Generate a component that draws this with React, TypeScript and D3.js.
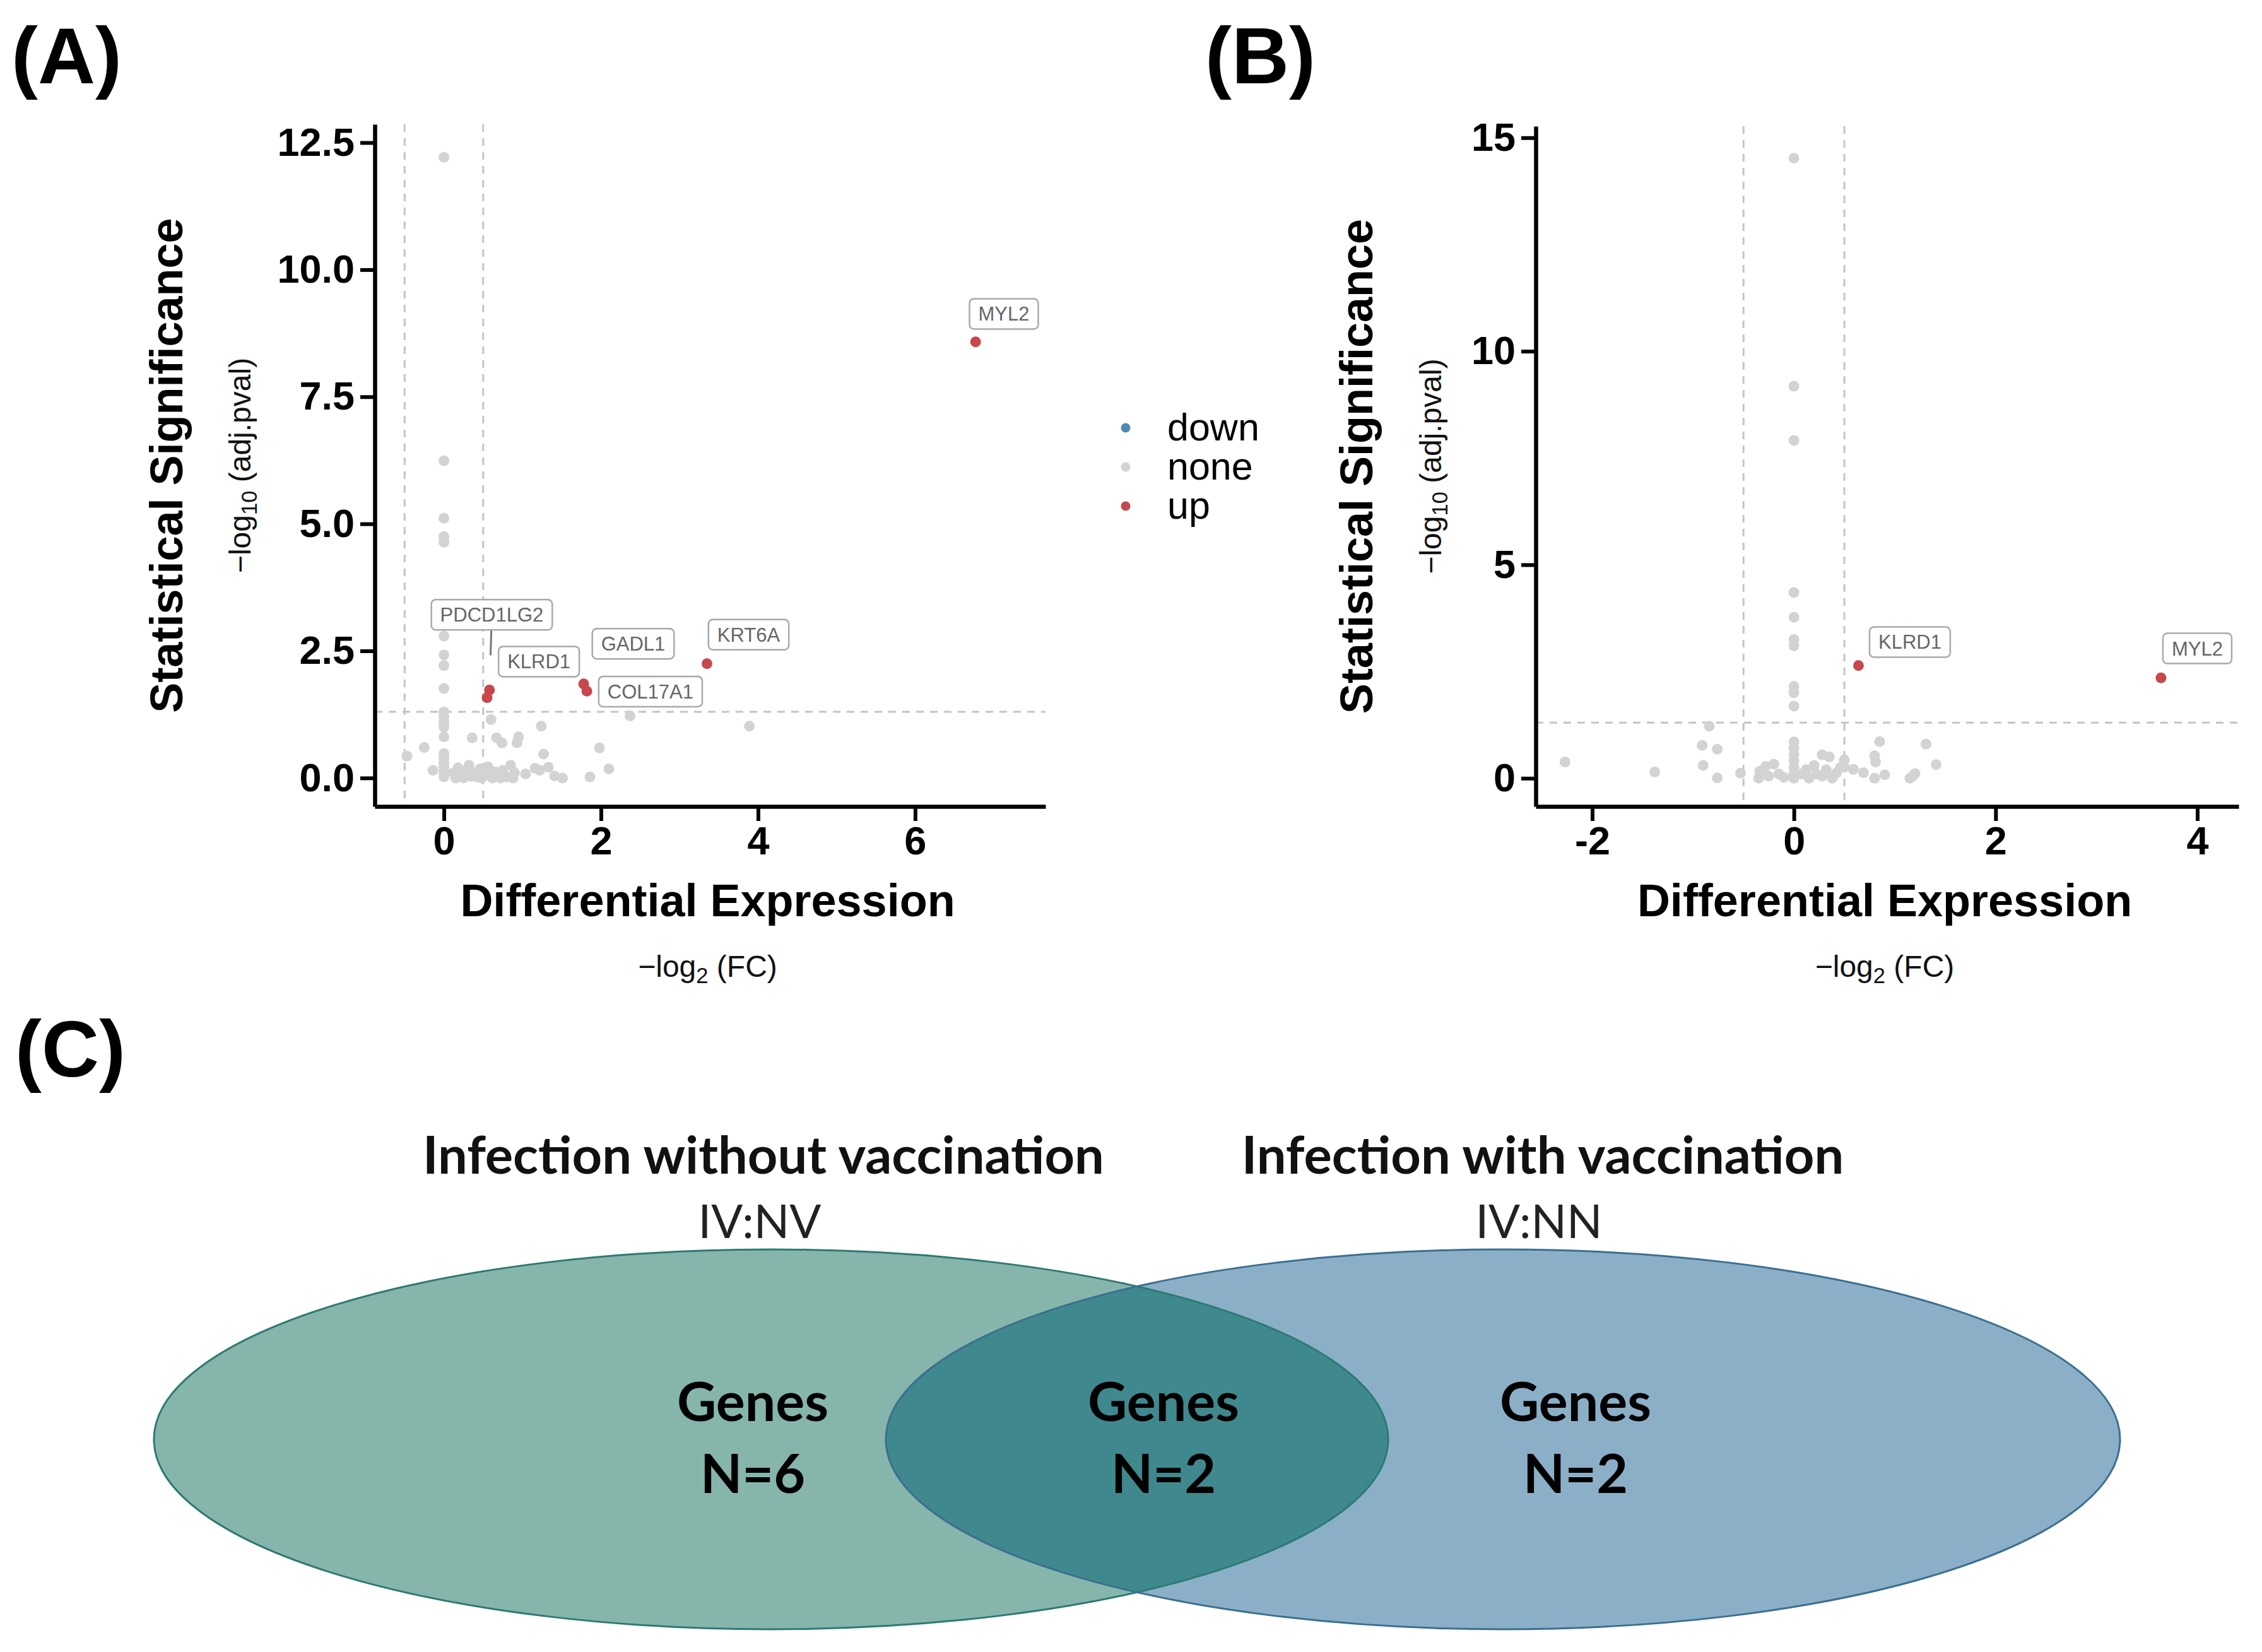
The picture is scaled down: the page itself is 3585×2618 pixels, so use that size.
import React, { useEffect, useRef } from "react";
import * as d3 from "d3";

const W = 3585;
const H = 2618;

// ---- data ----
// panel A (IV:NV) – non significant genes [log2FC, -log10 adj.p]
const noneA: [number, number][] = [
  [0, 12.21], [0, 6.24], [0, 5.11], [0, 4.75], [0, 4.64], [0, 3.22], [0, 2.79],
  [0, 2.42], [0, 2.21], [0, 1.76], [0, 1.3], [0, 1.2], [0, 1.1], [0, 1.0],
  [0, 0.81], [0, 0.48], [0, 0.4], [0, 0.3], [0, 0.22], [0, 0.15], [0, 0.08], [0, 0.02],
  [-0.47, 0.43], [-0.25, 0.6], [-0.14, 0.15], [0.36, 0.79], [0.6, 1.15], [0.67, 0.79],
  [0.74, 0.69], [0.95, 0.81], [0.93, 0.69], [1.24, 1.02], [1.27, 0.47], [1.98, 0.59],
  [2.37, 1.22], [3.89, 1.02], [2.1, 0.18], [1.86, 0.02], [1.04, 0.08], [1.16, 0.19],
  [1.33, 0.21], [1.22, 0.15], [1.41, 0.04], [1.51, 0.0],
  [0.12, 0.1], [0.18, 0.2], [0.22, 0.05], [0.28, 0.15], [0.32, 0.25], [0.38, 0.1],
  [0.42, 0.02], [0.46, 0.18], [0.52, 0.08], [0.56, 0.22], [0.6, 0.03], [0.65, 0.12],
  [0.7, 0.05], [0.75, 0.15], [0.8, 0.02], [0.85, 0.25], [0.9, 0.1], [0.15, 0.0],
  [0.25, 0.0], [0.35, 0.03], [0.48, 0.0], [0.62, 0.0], [0.72, 0.0], [0.88, 0.0],
];
const upA = [
  { gene: "PDCD1LG2", x: 0.58, y: 1.73 },
  { gene: "KLRD1", x: 0.55, y: 1.58 },
  { gene: "GADL1", x: 1.78, y: 1.85 },
  { gene: "COL17A1", x: 1.82, y: 1.71 },
  { gene: "KRT6A", x: 3.35, y: 2.25 },
  { gene: "MYL2", x: 6.77, y: 8.58 },
];

// panel B (IV:NN)
const noneB: [number, number][] = [
  [0, 14.52], [0, 9.18], [0, 7.91], [0, 4.35], [0, 3.77], [0, 3.25], [0, 3.1],
  [0, 2.15], [0, 2.0], [0, 1.69], [0, 0.85], [0, 0.7], [0, 0.55], [0, 0.4],
  [0, 0.25], [0, 0.1], [0, 0.0],
  [-2.27, 0.38], [-1.38, 0.15], [-0.84, 1.22], [-0.91, 0.77], [-0.76, 0.68],
  [-0.9, 0.3], [-0.76, 0.01], [-0.53, 0.12], [-0.34, 0.16], [-0.28, 0.28],
  [-0.2, 0.33], [-0.35, 0.0], [-0.25, 0.05], [-0.15, 0.1], [-0.1, 0.02],
  [0.28, 0.55], [0.35, 0.5], [0.08, 0.1], [0.12, 0.2], [0.15, 0.0], [0.2, 0.3],
  [0.22, 0.1], [0.28, 0.05], [0.32, 0.2], [0.38, 0.0], [0.42, 0.12], [0.46, 0.25],
  [0.5, 0.43], [0.5, 0.26], [0.59, 0.21], [0.69, 0.13], [0.85, 0.86], [0.8, 0.53],
  [0.81, 0.38], [0.8, 0.0], [0.9, 0.08], [1.15, 0.0], [1.2, 0.11], [1.31, 0.8],
  [1.41, 0.32], [1.18, 0.05],
];
const upB = [
  { gene: "KLRD1", x: 0.64, y: 2.64 },
  { gene: "MYL2", x: 3.64, y: 2.35 },
];

const legendKeys = ["down", "none", "up"];
const yTicksA = [0, 2.5, 5, 7.5, 10, 12.5];
const xTicksA = [0, 2, 4, 6];
const yTicksB = [0, 5, 10, 15];
const xTicksB = [-2, 0, 2, 4];

// where ggrepel put the label boxes (data units)
const labelSpotsA: Record<string, [number, number]> = {
  MYL2: [7.13, 9.13],
  PDCD1LG2: [0.61, 3.21],
  KLRD1: [1.21, 2.29],
  GADL1: [2.41, 2.64],
  COL17A1: [2.63, 1.7],
  KRT6A: [3.88, 2.82],
};
const labelSpotsB: Record<string, [number, number]> = {
  KLRD1: [1.15, 3.19],
  MYL2: [4.0, 3.04],
};

// venn
const vennSets = [
  { title: "Infection without vaccination", code: "IV:NV", only: 6 },
  { title: "Infection with vaccination", code: "IV:NN", only: 2 },
];
const vennShared = 2;

const colors: Record<string, string> = {
  down: "#4d8ab5",
  none: "#d3d3d3",
  up: "#c6474c",
};

const SANS = "'Liberation Sans', Arial, sans-serif";
const VENN_FONT = "Lato, 'Open Sans', sans-serif";

type Panel = {
  tag: string;
  tagX: number;
  left: number;
  right: number;
  top: number;
  bottom: number;
  xDomain: [number, number];
  yDomain: [number, number];
  xTicks: number[];
  yTicks: number[];
  yFmt: (v: number) => string;
  titleGap: number;
  subGap: number;
  none: [number, number][];
  up: { gene: string; x: number; y: number }[];
  labels: Record<string, [number, number]>;
  legend: boolean;
};

const panels: Panel[] = [
  {
    tag: "(A)", tagX: 18,
    left: 594, right: 1657, top: 197, bottom: 1278,
    xDomain: [-0.88, 7.66], yDomain: [-0.56, 12.86],
    xTicks: xTicksA, yTicks: yTicksA, yFmt: d3.format(".1f"),
    titleGap: 305, subGap: 197,
    none: noneA, up: upA, labels: labelSpotsA, legend: true,
  },
  {
    tag: "(B)", tagX: 1910,
    left: 2434, right: 3548, top: 200, bottom: 1278,
    xDomain: [-2.56, 4.41], yDomain: [-0.66, 15.27],
    xTicks: xTicksB, yTicks: yTicksB, yFmt: d3.format("d"),
    titleGap: 259, subGap: 150,
    none: noneB, up: upB, labels: labelSpotsB, legend: false,
  },
];

function logLabel(sel: any, base: string, sub: string, rest: string) {
  sel.append("tspan").text(base);
  sel.append("tspan").attr("font-size", "0.72em").attr("dy", "0.3em").text(sub);
  sel.append("tspan").attr("dy", "-0.22em").text(rest);
}

export default function App() {
  const svgRef = useRef<SVGSVGElement>(null);

  useEffect(() => {
    if (!svgRef.current) return;
    const svg = d3.select(svgRef.current);
    svg.selectAll("*").remove();

    svg.append("rect").attr("width", W).attr("height", H).attr("fill", "#fff");

    panels.forEach((p) => {
      const x = d3.scaleLinear().domain(p.xDomain).range([p.left, p.right]);
      const y = d3.scaleLinear().domain(p.yDomain).range([p.bottom, p.top]);
      const g = svg.append("g");

      // panel tag
      svg.append("text")
        .attr("x", p.tagX).attr("y", 132)
        .attr("font-family", SANS).attr("font-weight", "bold")
        .attr("font-size", 126).text(p.tag);

      // threshold lines
      const dash = g.append("g")
        .attr("stroke", "#c4c4c4").attr("stroke-width", 3)
        .attr("stroke-dasharray", "12 10").attr("fill", "none");
      [-0.5, 0.5].forEach((v) => {
        dash.append("line")
          .attr("x1", x(v)).attr("x2", x(v))
          .attr("y1", p.top).attr("y2", p.bottom);
      });
      dash.append("line")
        .attr("x1", p.left).attr("x2", p.right)
        .attr("y1", y(-Math.log10(0.05))).attr("y2", y(-Math.log10(0.05)));

      // points
      g.append("g").selectAll("circle")
        .data(p.none).join("circle")
        .attr("cx", (d) => x(d[0])).attr("cy", (d) => y(d[1]))
        .attr("r", 8.5).attr("fill", colors.none);
      g.append("g").selectAll("circle")
        .data(p.up).join("circle")
        .attr("cx", (d) => x(d.x)).attr("cy", (d) => y(d.y))
        .attr("r", 8.5).attr("fill", colors.up);

      // repel labels
      p.up.forEach((d) => {
        const spot = p.labels[d.gene];
        if (!spot) return;
        const cx = x(spot[0]);
        const cy = y(spot[1]);
        const lg = g.append("g");
        const rect = lg.append("rect");
        const txt = lg.append("text")
          .attr("x", cx).attr("y", cy + 11)
          .attr("text-anchor", "middle")
          .attr("font-family", SANS).attr("font-size", 31)
          .attr("fill", "#666").text(d.gene);
        const tw = (txt.node() as SVGTextElement).getComputedTextLength();
        const hw = tw / 2 + 14;
        const hh = 24;
        rect.attr("x", cx - hw).attr("y", cy - hh)
          .attr("width", hw * 2).attr("height", hh * 2)
          .attr("rx", 7).attr("fill", "#fff")
          .attr("stroke", "#a9a9a9").attr("stroke-width", 2.5);

        // segment from box edge toward the point
        const px = x(d.x), py = y(d.y);
        const dx = px - cx, dy = py - cy;
        const len = Math.hypot(dx, dy);
        const t = Math.min(Math.abs(dx) > 0 ? hw / Math.abs(dx) : 1e9, Math.abs(dy) > 0 ? hh / Math.abs(dy) : 1e9);
        const remain = (1 - t) * len - 55;
        if (t < 1 && remain > 15) {
          const sx = cx + dx * t, sy = cy + dy * t;
          const ux = dx / len, uy = dy / len;
          g.insert("line", ":first-child")
            .attr("x1", sx).attr("y1", sy)
            .attr("x2", sx + ux * remain).attr("y2", sy + uy * remain)
            .attr("stroke", "#777").attr("stroke-width", 3);
        }
      });

      // axes
      const yAxis = g.append("g")
        .attr("transform", `translate(${p.left},0)`)
        .call(d3.axisLeft(y).tickValues(p.yTicks).tickFormat(p.yFmt as any).tickSize(23).tickSizeOuter(0).tickPadding(9));
      const xAxis = g.append("g")
        .attr("transform", `translate(0,${p.bottom})`)
        .call(d3.axisBottom(x).tickValues(p.xTicks).tickFormat(d3.format("d") as any).tickSize(23).tickSizeOuter(0).tickPadding(8));
      [yAxis, xAxis].forEach((a) => {
        a.attr("font-family", SANS).attr("font-size", 63).attr("font-weight", "bold");
        a.select(".domain").attr("stroke", "#000").attr("stroke-width", 6.5);
        a.selectAll(".tick line").attr("stroke", "#000").attr("stroke-width", 6);
        a.selectAll(".tick text").attr("fill", "#000");
      });
      xAxis.selectAll(".tick text").text((d: any) => (d < 0 ? `-${Math.abs(d)}` : `${d}`));

      // axis titles
      const midY = (p.top + p.bottom) / 2;
      const midX = (p.left + p.right) / 2;
      svg.append("text")
        .attr("transform", `translate(${p.left - p.titleGap},${midY}) rotate(-90)`)
        .attr("text-anchor", "middle")
        .attr("font-family", SANS).attr("font-weight", "bold").attr("font-size", 72)
        .text("Statistical Significance");
      const ys = svg.append("text")
        .attr("transform", `translate(${p.left - p.subGap},${midY}) rotate(-90)`)
        .attr("text-anchor", "middle")
        .attr("font-family", SANS).attr("font-size", 48).attr("fill", "#111");
      logLabel(ys, "\u2212log", "10", " (adj.pval)");

      svg.append("text")
        .attr("x", midX - 4).attr("y", 1452)
        .attr("text-anchor", "middle")
        .attr("font-family", SANS).attr("font-weight", "bold").attr("font-size", 72)
        .text("Differential Expression");
      const xs = svg.append("text")
        .attr("x", midX - 4).attr("y", 1548)
        .attr("text-anchor", "middle")
        .attr("font-family", SANS).attr("font-size", 48).attr("fill", "#111");
      logLabel(xs, "\u2212log", "2", " (FC)");

      // legend
      if (p.legend) {
        const lg = svg.append("g").attr("transform", "translate(1784,678)");
        const row = lg.selectAll("g").data(legendKeys).join("g")
          .attr("transform", (_, i) => `translate(0,${i * 62})`);
        row.append("circle").attr("r", 7.5).attr("fill", (d) => colors[d]);
        row.append("text")
          .attr("x", 66).attr("y", 20)
          .attr("font-family", SANS).attr("font-size", 61)
          .text((d) => d);
      }
    });

    // ---- panel C: venn ----
    svg.append("text")
      .attr("x", 24).attr("y", 1706)
      .attr("font-family", SANS).attr("font-weight", "bold")
      .attr("font-size", 126).text("(C)");

    const vx = d3.scaleLinear().domain([0, 1]).range([1222, 2382]);
    const cy = 2281, rx = 978, ry = 301;
    const fills = ["#86b5ac", "#8cafc8"];
    const strokes = ["#2d7a72", "#3b6f90"];

    const defs = svg.append("defs");
    defs.append("clipPath").attr("id", "clipRight")
      .append("ellipse").attr("cx", vx(1)).attr("cy", cy).attr("rx", rx).attr("ry", ry);

    const vg = svg.append("g");
    vennSets.forEach((_, i) => {
      vg.append("ellipse")
        .attr("cx", vx(i)).attr("cy", cy).attr("rx", rx).attr("ry", ry)
        .attr("fill", fills[i]);
    });
    vg.append("ellipse")
      .attr("cx", vx(0)).attr("cy", cy).attr("rx", rx).attr("ry", ry)
      .attr("clip-path", "url(#clipRight)")
      .attr("fill", "#3f898e");
    vennSets.forEach((_, i) => {
      vg.append("ellipse")
        .attr("cx", vx(i)).attr("cy", cy).attr("rx", rx).attr("ry", ry)
        .attr("fill", "none").attr("stroke", strokes[i]).attr("stroke-width", 3);
    });

    const titleX = [1210, 2445];
    const countX = [1193, 1844, 2497];
    vennSets.forEach((s, i) => {
      svg.append("text")
        .attr("x", titleX[i]).attr("y", 1860)
        .attr("text-anchor", "middle")
        .attr("font-family", VENN_FONT).attr("font-weight", "bold").attr("font-size", 83)
        .attr("fill", "#111").text(s.title);
      svg.append("text")
        .attr("x", titleX[i] - 6).attr("y", 1962)
        .attr("text-anchor", "middle")
        .attr("font-family", VENN_FONT).attr("font-size", 74)
        .attr("fill", "#222").text(s.code);
    });
    const counts = [vennSets[0].only, vennShared, vennSets[1].only];
    counts.forEach((n, i) => {
      const t = svg.append("text")
        .attr("text-anchor", "middle")
        .attr("font-family", VENN_FONT).attr("font-weight", "bold").attr("font-size", 86)
        .attr("fill", "#000");
      t.append("tspan").attr("x", countX[i]).attr("y", 2252).text("Genes");
      t.append("tspan").attr("x", countX[i]).attr("y", 2366).text(`N=${n}`);
    });
  }, []);

  return (
    <div style={{ position: "absolute", left: 0, top: 0 }}>
      <svg ref={svgRef} width={W} height={H} style={{ display: "block" }} />
    </div>
  );
}
